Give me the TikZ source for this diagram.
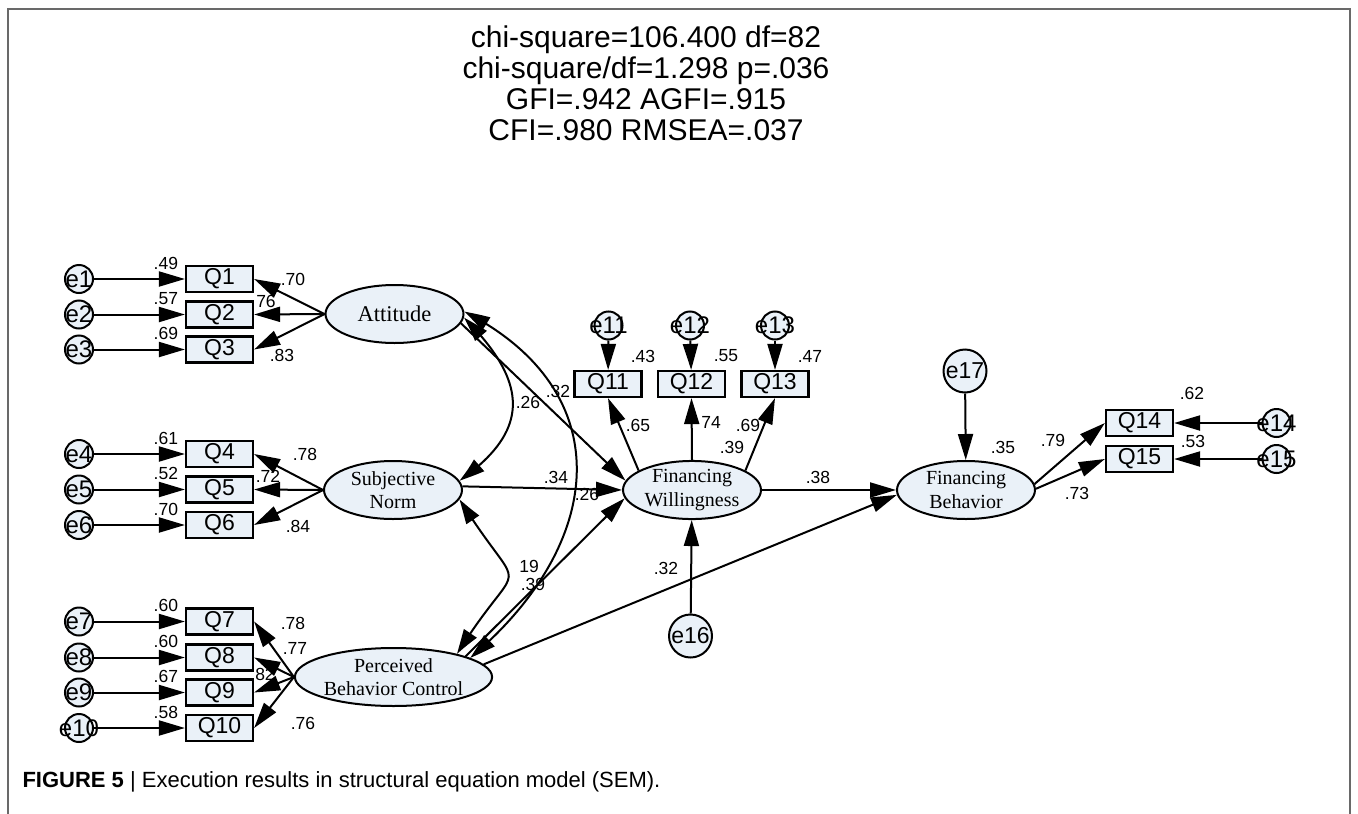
\documentclass[tikz,border=0pt]{standalone}
\usepackage{fontspec}
\setmainfont{Liberation Serif}
\setsansfont{Liberation Sans}
\usetikzlibrary{arrows.meta,bending,shapes.geometric}

\definecolor{latentfill}{RGB}{234,241,248}
\definecolor{framegray}{RGB}{105,105,105}

\newcommand\itemfont{\sffamily\fontsize{23}{25}\selectfont}
\newcommand\errfont{\sffamily\fontsize{24}{26}\selectfont}
\newcommand\coeffont{\sffamily\fontsize{17.5}{19}\selectfont}
\newcommand\latfont{\rmfamily\fontsize{20}{23.5}\selectfont}

% one observed item on the left: error circle, box, arrow and the R^2 above
\newcommand\obsrow[3]{%
    \node[obsbox] (q#1) at (219.5,-#2) {Q#1};
    \node[errc] (e#1) at (79,-#2) {\makebox[0pt]{e#1}};
    \node[coef] (r#1) at ([xshift=-19pt,yshift=16pt]q#1.west) {#3};
    \draw[arr] (e#1) -- (q#1);
    }

\begin{document}
\begin{tikzpicture}[x=1pt,y=1pt,
    latent/.style={ellipse,draw,line width=2pt,fill=latentfill,minimum width=138pt,minimum height=58pt,inner sep=0pt,align=center,font=\latfont},
    obsbox/.style={rectangle,draw,line width=2.2pt,fill=latentfill,minimum width=67pt,minimum height=26pt,inner sep=0pt,font=\itemfont},
    errc/.style={circle,draw,line width=2pt,fill=latentfill,minimum size=28pt,inner sep=0pt,font=\errfont},
    bigerr/.style={errc,minimum size=43pt,font=\itemfont},
    coef/.style={inner sep=0pt,font=\coeffont},
    arr/.style={-{Triangle[length=26pt,width=15pt]},line width=2pt},
    covar/.style={{Triangle[length=26pt,width=15pt,bend]}-{Triangle[length=26pt,width=15pt,bend]},line width=2pt}]
    \useasboundingbox (0,0) rectangle (1358,-814);
    \draw[framegray,line width=2.5pt] (8,-830) -- (8,-9) -- (1350,-9) -- (1350,-830);

    % fit indices
    \node[align=center,font=\sffamily\fontsize{30}{31}\selectfont] (fit) at (646,-83)
        {chi-square=106.400 df=82\\chi-square/df=1.298 p=.036\\GFI=.942 AGFI=.915\\CFI=.980 RMSEA=.037};

    % latent variables
    \node[latent,font=\rmfamily\fontsize{22.5}{24}\selectfont] (att) at (394.5,-314) {Attitude};
    \node[latent] (sn) at (393,-490) {Subjective\\Norm};
    \node[latent] (pbc) at (393.5,-677) {Perceived\\Behavior Control};
    \node[latent] (fw) at (692,-490) {Financing\\Willingness};
    \node[latent] (fb) at (966,-490) {Financing\\Behavior};

    % items of the three predictors
    \obsrow{1}{279}{.49}
    \obsrow{2}{314.5}{.57}
    \obsrow{3}{349.5}{.69}
    \obsrow{4}{454}{.61}
    \obsrow{5}{489.5}{.52}
    \obsrow{6}{525}{.70}
    \obsrow{7}{621.5}{.60}
    \obsrow{8}{657.5}{.60}
    \obsrow{9}{692.5}{.67}
    \obsrow{10}{728}{.58}

    % items of willingness and behaviour
    \node[obsbox] (q11) at (608,-384) {Q11};
    \node[obsbox] (q12) at (691.5,-384) {Q12};
    \node[obsbox] (q13) at (775,-384) {Q13};
    \node[errc] (e11) at (608.5,-325.5) {\makebox[0pt]{e11}};
    \node[errc] (e12) at (690,-325.5) {\makebox[0pt]{e12}};
    \node[errc] (e13) at (775,-325.5) {\makebox[0pt]{e13}};
    \node[obsbox] (q14) at (1139.5,-423) {Q14};
    \node[obsbox] (q15) at (1139.5,-459) {Q15};
    \node[errc] (e14) at (1276.5,-423) {\makebox[0pt]{e14}};
    \node[errc] (e15) at (1276.5,-459) {\makebox[0pt]{e15}};
    \node[bigerr] (e16) at (690.5,-636) {e16};
    \node[bigerr] (e17) at (965,-371) {e17};

    \node[coef] (r11) at (643,-356) {.43};
    \node[coef] (r12) at (726,-356) {.55};
    \node[coef] (r13) at (810,-356) {.47};
    \node[coef] (r14) at (1192,-393) {.62};
    \node[coef] (r15) at (1193,-441) {.53};
    \node[coef] (r16) at (732,-447) {.39};
    \node[coef] (r17) at (1003,-447) {.35};

    % loadings
    \node[coef] (w1) at (293,-279) {.70};
    \node[coef] (w2) at (266,-301) {76};
    \node[coef] (w3) at (282,-355) {.83};
    \node[coef] (w4) at (305,-454) {.78};
    \node[coef] (w5) at (268,-476) {.72};
    \node[coef] (w6) at (298,-526) {.84};
    \node[coef] (w7) at (293,-623) {.78};
    \node[coef] (w8) at (295,-648) {.77};
    \node[coef] (w9) at (265,-674) {82};
    \node[coef] (w10) at (303,-723) {.76};
    \node[coef] (w11) at (638,-425) {.65};
    \node[coef] (w12) at (711,-422) {74};
    \node[coef] (w13) at (748,-425) {.69};
    \node[coef] (w14) at (1053,-440) {.79};
    \node[coef] (w15) at (1077,-493) {.73};

    % paths and covariances
    \node[coef] (c1) at (528,-402) {.26};
    \node[coef] (c2) at (558,-391) {.32};
    \node[coef] (c3) at (529,-566) {19};
    \node[coef] (b1) at (556,-477) {.34};
    \node[coef] (b2) at (587,-494) {.26};
    \node[coef] (b3) at (533,-584) {.39};
    \node[coef] (b4) at (666,-568) {.32};
    \node[coef] (b5) at (818,-477) {.38};

    \draw[arr] (att.west) -- (q1.east);
    \draw[arr] (att.west) -- (q2.east);
    \draw[arr] (att.west) -- (q3.east);
    \draw[arr] (sn.west) -- (q4.east);
    \draw[arr] (sn.west) -- (q5.east);
    \draw[arr] (sn.west) -- (q6.east);
    \draw[arr] (pbc.west) -- (q7.east);
    \draw[arr] (pbc.west) -- (q8.east);
    \draw[arr] (pbc.west) -- (q9.east);
    \draw[arr] (pbc.west) -- (q10.east);
    \draw[arr] (fw.160) -- (q11.south);
    \draw[arr] (fw.north) -- (q12.south);
    \draw[arr] (fw.20) -- (q13.south);
    \draw[arr] (fb.5) -- (q14.west);
    \draw[arr] (fb.1) -- (q15.west);
    \draw[arr] (e11) -- (q11);
    \draw[arr] (e12) -- (q12);
    \draw[arr] (e13) -- (q13);
    \draw[arr] (e14) -- (q14);
    \draw[arr] (e15) -- (q15);
    \draw[arr] (e16) -- (fw);
    \draw[arr] (e17) -- (fb);

    \draw[arr] (att.-8) -- (fw.172);
    \draw[arr] (sn.3) -- (fw.west);
    \draw[arr] (pbc.16) -- (fw.187);
    \draw[arr] (pbc.8) -- (fb.184);
    \draw[arr] (fw.east) -- (fb.west);
    \draw[covar] (att.-3) to[out=-45,in=35,looseness=1.4] (sn.8);
    \draw[covar] (att.2) to[out=-27,in=40,looseness=1.3] (pbc.14);
    \draw[covar] (sn.-8) to[out=-58,in=58,looseness=2.1] (pbc.20);

    \node[anchor=west,font=\sffamily\fontsize{22}{24}\selectfont] (cap) at (19,-782)
        {\textbf{FIGURE 5} | Execution results in structural equation model (SEM).};
\end{tikzpicture}
\end{document}
